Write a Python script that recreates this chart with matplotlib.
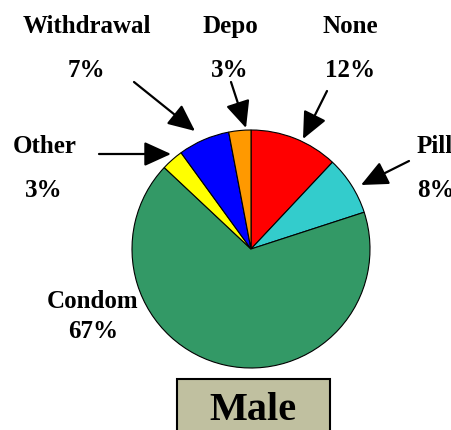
import matplotlib
matplotlib.use("Agg")
import matplotlib.pyplot as plt
from matplotlib.patches import Rectangle

# data
methods = ['None', 'Pill', 'Condom', 'Other', 'Withdrawal', 'Depo']
shares = [12, 8, 67, 3, 7, 3]
colors = ['#FF0000', '#33CCCC', '#339966', '#FFFF00', '#0000FF', '#FF9900']
title = 'Male'

W, H = 451, 430
plt.rcParams['font.family'] = ['Liberation Serif', 'DejaVu Serif']
plt.rcParams['font.weight'] = 'bold'

fig = plt.figure(figsize=(W / 100, H / 100), dpi=100)
ax = fig.add_axes([0, 0, 1, 1])

def Y(y):
    return H - y

ax.pie(shares, colors=colors, startangle=90, counterclock=False,
       center=(251, Y(249)), radius=119,
       wedgeprops=dict(edgecolor='black', linewidth=0.8))
ax.set_xlim(0, W)
ax.set_ylim(0, H)
ax.set_aspect('auto')
ax.axis('off')

fs = 18
lbl = {m: f'{s}%' for m, s in zip(methods, shares)}

# label text: (name pos, pct pos, ha)
layout = {
    'Withdrawal': ((87, 33), (86, 77), 'center'),
    'Depo': ((230, 33), (230, 77), 'center'),
    'None': ((350, 33), (350, 77), 'center'),
    'Other': ((45, 153), (44, 197), 'center'),
    'Pill': ((417, 153), (417, 197), 'left'),
}
for name, ((x1, y1), (x2, y2), ha) in layout.items():
    ax.text(x1, Y(y1), name, ha=ha, va='baseline', fontsize=fs, fontweight='bold')
    ax.text(x2, Y(y2), lbl[name], ha=ha, va='baseline', fontsize=fs, fontweight='bold')

ax.text(93, Y(308), 'Condom', ha='center', va='baseline', fontsize=fs, fontweight='bold')
ax.text(93, Y(338), lbl['Condom'], ha='center', va='baseline', fontsize=fs, fontweight='bold')

# arrows: (tail, head)
arrows = [((134, 82), (195, 131)),
          ((231, 82), (246, 128)),
          ((327, 91), (303, 139)),
          ((99, 154), (171, 154)),
          ((409, 161), (361, 185))]
for (x0, y0), (x1, y1) in arrows:
    ax.annotate('', xy=(x1, Y(y1)), xytext=(x0, Y(y0)),
                arrowprops=dict(arrowstyle='-|>,head_length=0.55,head_width=0.25',
                                color='black', lw=1.6,
                                mutation_scale=30, shrinkA=0, shrinkB=0))

# title box
ax.add_patch(Rectangle((177, Y(440)), 153, 61, facecolor='#C0C0A0',
                       edgecolor='black', linewidth=1.5, clip_on=False))
ax.text(253, Y(420), title, ha='center', va='baseline', fontsize=29, fontweight='bold')

fig.savefig('out.png', dpi=100)
